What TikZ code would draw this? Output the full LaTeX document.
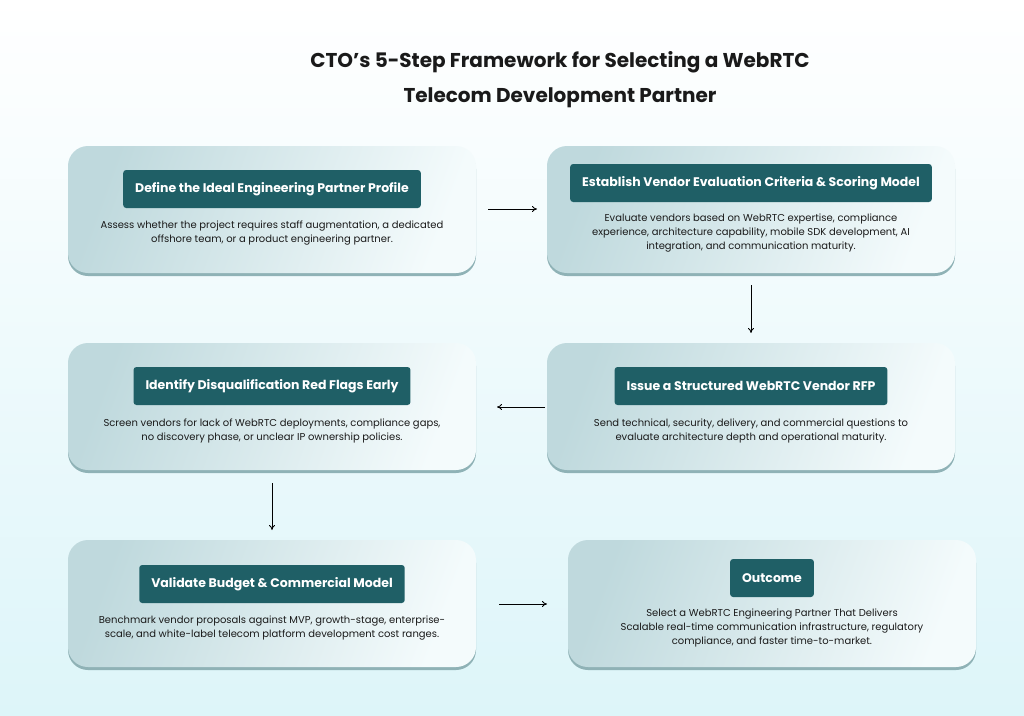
\documentclass[tikz,border=0pt]{standalone}
\usepackage{fontspec}
\setmainfont{Poppins}
\usetikzlibrary{arrows.meta}
\definecolor{lab}{HTML}{1F5F66}
\definecolor{cardL}{HTML}{BFD9DD}
\definecolor{cardR}{HTML}{F4FBFC}
\definecolor{shad}{HTML}{8FB2B6}
\definecolor{bgB}{HTML}{DDF5F9}
\definecolor{txt}{HTML}{1A1A1A}
\begin{document}
\begin{tikzpicture}[x=1pt,y=-1pt,
  card/.style={rounded corners=20pt,left color=cardL,right color=cardR,shading angle=70},
  lab/.style={fill=lab,rounded corners=3pt,text=white,font=\bfseries\fontsize{12.5}{14}\selectfont,inner xsep=12pt,minimum height=38pt},
  desc/.style={text=txt,font=\fontsize{10}{14}\selectfont,align=center},
  arr/.style={-{To[length=5pt,width=6pt]},line width=0.8pt,black}]
\shade[top color=white,bottom color=bgB] (0,0) rectangle (1024,715);
\useasboundingbox (0,0) rectangle (1024,715);
\node[font=\bfseries\fontsize{20}{35}\selectfont,align=center,text=txt] (title) at (560,80) {CTO’s 5-Step Framework for Selecting a WebRTC\\Telecom Development Partner};
\foreach \n/\x/\y in {c1/68/146,c2/547/146,c3/68/343,c4/547/343,c5/68/540,c6/568/540}{
  \fill[shad,rounded corners=20pt] (\x,\y+3) rectangle (\x+408,\y+130);
  \shade[card] (\x,\y) rectangle (\x+408,\y+127);
  \coordinate (\n) at (\x+204,\y+63.5);
}
\node[lab] (l1) at (272,189) {Define the Ideal Engineering Partner Profile};
\node[desc] (d1) at (272,233) {Assess whether the project requires staff augmentation, a dedicated\\offshore team, or a product engineering partner.};
\node[lab] (l2) at (751,183) {Establish Vendor Evaluation Criteria \& Scoring Model};
\node[desc] (d2) at (751,233) {Evaluate vendors based on WebRTC expertise, compliance\\experience, architecture capability, mobile SDK development, AI\\integration, and communication maturity.};
\node[lab] (l3) at (272,386) {Identify Disqualification Red Flags Early};
\node[desc] (d3) at (272,431) {Screen vendors for lack of WebRTC deployments, compliance gaps,\\no discovery phase, or unclear IP ownership policies.};
\node[lab] (l4) at (751,386) {Issue a Structured WebRTC Vendor RFP};
\node[desc] (d4) at (751,431) {Send technical, security, delivery, and commercial questions to\\evaluate architecture depth and operational maturity.};
\node[lab] (l5) at (272,584) {Validate Budget \& Commercial Model};
\node[desc] (d5) at (272,628) {Benchmark vendor proposals against MVP, growth-stage, enterprise-\\scale, and white-label telecom platform development cost ranges.};
\node[lab] (l6) at (772,578) {Outcome};
\node[desc] (d6) at (772,628) {Select a WebRTC Engineering Partner That Delivers\\Scalable real-time communication infrastructure, regulatory\\compliance, and faster time-to-market.};
\coordinate (a1s) at (488,209); \coordinate (a1e) at (537,209);
\coordinate (a2s) at (751,285); \coordinate (a2e) at (751,333);
\coordinate (a3s) at (545,407); \coordinate (a3e) at (497,407);
\coordinate (a4s) at (272,483); \coordinate (a4e) at (272,530);
\coordinate (a5s) at (499,604); \coordinate (a5e) at (547,604);
\draw[arr] (a1s) -- (a1e);
\draw[arr] (a2s) -- (a2e);
\draw[arr] (a3s) -- (a3e);
\draw[arr] (a4s) -- (a4e);
\draw[arr] (a5s) -- (a5e);
\end{tikzpicture}
\end{document}
